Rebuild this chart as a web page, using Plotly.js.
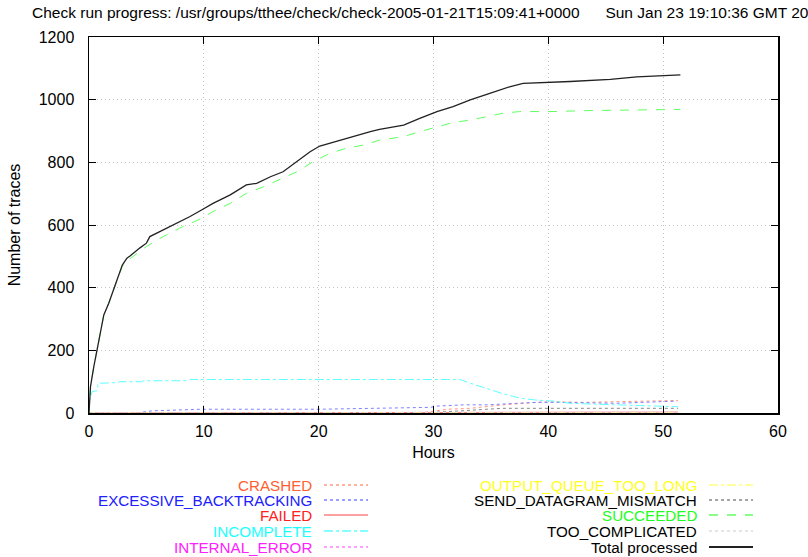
<!DOCTYPE html>
<html>
<head>
<meta charset="utf-8">
<script src="https://cdn.plot.ly/plotly-3.0.1.min.js"></script>
<style>html,body{margin:0;padding:0;background:#fff;}#chart{width:808px;height:557px;}</style>
</head>
<body>
<div id="chart"></div>
<script>
// ---- data (hours, number of traces) ----
const seriesNames = ["CRASHED","EXCESSIVE_BACKTRACKING","FAILED","INCOMPLETE","INTERNAL_ERROR",
  "OUTPUT_QUEUE_TOO_LONG","SEND_DATAGRAM_MISMATCH","SUCCEEDED","TOO_COMPLICATED","Total processed"];

const crashedT = [0, 29, 29.7, 31.2, 33.2, 36.1, 39, 40.4, 43.1, 47, 51.3];
const crashedV = [0, 1, 4, 12, 15, 26, 34, 36, 34, 36, 40];

const excessiveT = [0, 4.3, 5.5, 8.4, 9.8, 20, 23, 29.7, 30.3, 32.6, 34.6, 36.1, 39, 40.4, 46, 51.2];
const excessiveV = [0, 1, 7, 10, 12, 12, 14, 18, 22, 26, 26, 29, 34, 34, 31, 38];

const failedT = [0, 10, 20, 30, 40, 51.3];
const failedV = [0, 1, 1, 2, 3, 3];

const incompleteT = [0, 0.05, 0.27, 0.7, 0.8, 2.5, 2.7, 4.6, 4.75, 8.7, 8.8, 32.3, 33.2, 34.6, 36.1, 37.6, 39.0, 40.4, 41.9, 46, 48.9, 51.3];
const incompleteV = [0, 41, 68, 71, 95, 97, 100, 100, 103, 103, 107, 107, 95, 79, 61, 47, 41, 38, 31, 26, 22, 20];

const internalT = [0, 15, 30, 40, 51.3];
const internalV = [0, 1, 1, 2, 2];

const outputQueueT = [0, 20, 35, 51.3];
const outputQueueV = [0, 0, 1, 1];

const sendDatagramT = [0, 30, 32, 34, 36, 51.3];
const sendDatagramV = [0, 2, 6, 10, 15, 15];

const succeededT = [0, 0.13, 0.42, 0.71, 1.0, 1.29, 1.72, 2.3, 2.9, 3.3, 4.0, 5.0, 6.2, 7.9, 9.8, 10.8, 12.3, 13.7, 15.2, 16.6, 18.1, 19.5, 21, 22.4, 23.9, 25.3, 27.4, 28.8, 30.3, 31.7, 33.2, 34.6, 36.1, 37.5, 40.4, 43.3, 47.7, 51.5];
const succeededV = [0, 84, 148, 201, 254, 313, 350, 409, 468, 485, 505, 531, 558, 590, 621, 643, 669, 701, 722, 744, 770, 802, 829, 845, 855, 871, 882, 898, 912, 927, 935, 946, 957, 962, 962, 965, 967, 969];

const tooComplicatedT = [0, 20, 30, 40, 51.3];
const tooComplicatedV = [0, 1, 2, 3, 3];

const totalT = [0, 0.13, 0.42, 0.71, 1.0, 1.29, 1.72, 2.3, 2.9, 3.3, 3.57, 4.44, 5.0, 5.3, 6.2, 7.05, 7.9, 8.8, 9.8, 10.8, 12.3, 13.7, 14.6, 15.8, 16.9, 18.1, 19.25, 20.1, 21.9, 23.3, 24.5, 25.3, 27.4, 28.8, 30.3, 31.7, 33.2, 34.9, 36.7, 37.8, 39.6, 41.9, 45.4, 47.7, 51.5];
const totalV = [0, 84, 148, 201, 254, 313, 350, 409, 472, 494, 501, 527, 542, 563, 579, 595, 611, 627, 648, 669, 696, 728, 733, 754, 770, 802, 834, 852, 871, 887, 898, 905, 919, 940, 962, 978, 999, 1020, 1042, 1052, 1054, 1058, 1065, 1073, 1079];

const xTicks = [0, 10, 20, 30, 40, 50, 60];
const yTicks = [0, 200, 400, 600, 800, 1000, 1200];

const titleText = "Check run progress: /usr/groups/tthee/check/check-2005-01-21T15:09:41+0000&nbsp;&nbsp;&nbsp;&nbsp;&nbsp;&nbsp;Sun Jan 23 19:10:36 GMT 2005";

// ---- styles ----
const xs = [crashedT, excessiveT, failedT, incompleteT, internalT, outputQueueT, sendDatagramT, succeededT, tooComplicatedT, totalT];
const ys = [crashedV, excessiveV, failedV, incompleteV, internalV, outputQueueV, sendDatagramV, succeededV, tooComplicatedV, totalV];
const textColors = ["#ff6030", "#2020ff", "#ff2020", "#20ffff", "#ff20ff", "#ffff20", "#000000", "#20ff20", "#000000", "#000000"];
const lineColors = ["#ff9a80", "#8080ff", "#ff8080", "#60ffff", "#ff80ff", "#ffff80", "#888888", "#60ff60", "#dddddd", "#222222"];
const lineDash = ["dot", "dot", "solid", "dashdot", "dot", "dashdot", "dot", "dash", "dot", "solid"];
const lineWidth = [1, 1, 1, 1, 1, 1, 1, 1, 1, 1.3];

const traces = seriesNames.map((n, i) => ({
  type: "scatter", mode: "lines", name: n, x: xs[i], y: ys[i],
  line: {color: lineColors[i], dash: lineDash[i], width: lineWidth[i]},
  showlegend: false, hoverinfo: "x+y+name"
}));

// draw order: small series first, then succeeded and total on top
const order = [0,1,2,3,4,5,6,8,7,9];
const data = order.map(i => traces[i]);

// ---- layout ----
const L = 89, R = 778, T = 37, B = 413, W = 808, H = 557;
const px2x = p => (p - L) / (R - L);
const py2y = p => (B - p) / (B - T);
const FONT = "Liberation Sans, Arial, Helvetica, sans-serif";

const annotations = [];
const shapes = [];
const rowY = [485, 500, 515, 531, 547];
seriesNames.forEach((n, i) => {
  const col = i < 5 ? 0 : 1;
  const row = i % 5;
  const textRight = col === 0 ? 314 : 699;
  const y = rowY[row];
  annotations.push({
    xref: "paper", yref: "paper", x: px2x(textRight), y: py2y(y),
    xanchor: "right", yanchor: "middle", showarrow: false, text: n,
    font: {family: FONT, size: 15.2, color: textColors[i]}
  });
  shapes.push({
    type: "line", xref: "paper", yref: "paper",
    x0: px2x(textRight + 10), x1: px2x(textRight + 54), y0: py2y(y), y1: py2y(y),
    line: {color: lineColors[i], dash: lineDash[i], width: lineWidth[i] + 0.5}
  });
});

const layout = {
  width: W, height: H,
  margin: {l: L, r: W - R, t: T, b: H - B, pad: 0},
  paper_bgcolor: "#ffffff", plot_bgcolor: "#ffffff",
  font: {family: FONT, size: 16, color: "#000"},
  title: {
    text: titleText, xref: "container", yref: "container",
    x: 32 / W, xanchor: "left", y: 1 - 13 / H, yanchor: "middle",
    font: {family: FONT, size: 15.5, color: "#000"}
  },
  xaxis: {
    range: [0, 60], tickvals: xTicks, ticktext: xTicks.map(String),
    ticks: "inside", ticklen: 7, tickcolor: "#000", tickwidth: 1,
    showline: true, linecolor: "#000", linewidth: 1.5, mirror: "ticks",
    showgrid: true, gridcolor: "#c4c4c4", griddash: "1px,3px", gridwidth: 1,
    zeroline: false, tickfont: {size: 16}, ticklabelstandoff: 3,
    title: {text: "Hours", standoff: 8, font: {size: 16}}, automargin: false
  },
  yaxis: {
    range: [0, 1200], tickvals: yTicks, ticktext: yTicks.map(String),
    ticks: "inside", ticklen: 7, tickcolor: "#000", tickwidth: 1,
    showline: true, linecolor: "#000", linewidth: 1.5, mirror: "ticks",
    showgrid: true, gridcolor: "#c4c4c4", griddash: "1px,3px", gridwidth: 1,
    zeroline: false, tickfont: {size: 16}, ticklabelstandoff: 10,
    title: {text: "Number of traces", standoff: 14, font: {size: 16}}, automargin: false
  },
  annotations: annotations,
  shapes: shapes,
  showlegend: false
};

Plotly.newPlot("chart", data, layout, {displayModeBar: false, staticPlot: true});
</script>
</body>
</html>
